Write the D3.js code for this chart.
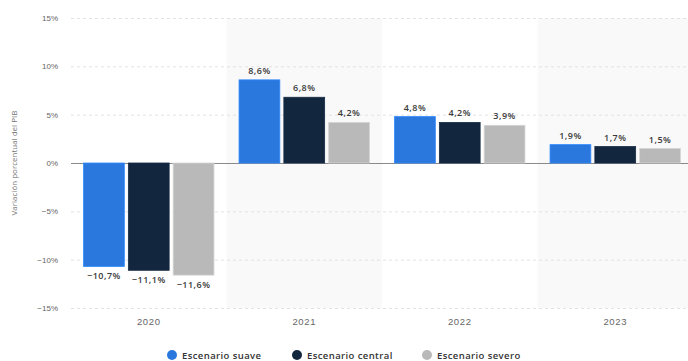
<!DOCTYPE html>
<html>
<head>
<meta charset="utf-8">
<script src="https://cdn.jsdelivr.net/npm/d3@7/dist/d3.min.js"></script>
<style>
  html, body { margin: 0; padding: 0; background: #fff; }
  svg { display: block; font-family: "Open Sans", "Noto Sans", sans-serif; }
</style>
</head>
<body>
<svg id="chart" width="688" height="361"></svg>
<script>
// Años del eje horizontal
const years = ["2020", "2021", "2022", "2023"];
// Escenarios y sus colores
const scenarios = ["Escenario suave", "Escenario central", "Escenario severo"];
const colors = ["#2a77dd", "#12263d", "#b9b9b9"];
// Variación porcentual del PIB por escenario
const suave = [-10.7, 8.6, 4.8, 1.9];
const central = [-11.1, 6.8, 4.2, 1.7];
const severo = [-11.6, 4.2, 3.9, 1.5];
// Marcas del eje vertical
const yTicks = [-15, -10, -5, 0, 5, 10, 15];

const seriesValues = [suave, central, severo];
const svg = d3.select("#chart");

const x = d3.scaleBand().domain(years).range([71, 693]).paddingInner(0).paddingOuter(0);
const xInner = d3.scaleBand().domain(scenarios)
  .range([0, x.bandwidth()]).paddingInner(0.09).paddingOuter(0.28);
const y = d3.scaleLinear().domain([-15, 15]).range([308, 18]);

const fmt = v => d3.format(".1f")(v).replace(".", ",").replace("-", "\u2212") + "%";

// Bandas sombreadas alternas
svg.append("g").selectAll("rect")
  .data(years.filter((d, i) => i % 2 === 1))
  .join("rect")
  .attr("x", d => x(d)).attr("y", y(15))
  .attr("width", x.bandwidth()).attr("height", y(-15) - y(15))
  .attr("fill", "#f9f9f9");

// Líneas de cuadrícula
const yAxis = d3.axisLeft(y).tickValues(yTicks).tickSize(0).tickPadding(13)
  .tickFormat(d => (d < 0 ? "\u2212" : "") + Math.abs(d) + "%");
const gy = svg.append("g").attr("transform", "translate(71,0)").call(yAxis);
gy.select(".domain").remove();
gy.selectAll("text").attr("fill", "#666").attr("font-size", 8);
gy.selectAll(".tick").append("line")
  .attr("x1", 0).attr("x2", 693 - 71)
  .attr("stroke", d => d === 0 ? "#8a8a8a" : "#dcdcdc")
  .attr("stroke-width", d => d === 0 ? 1.2 : 0.8)
  .attr("stroke-dasharray", d => d === 0 ? null : "3,3");

// Eje horizontal
const xAxis = d3.axisBottom(x).tickSize(0).tickPadding(6);
const gx = svg.append("g").attr("transform", "translate(0,312)").call(xAxis);
gx.select(".domain").remove();
gx.selectAll("text").attr("fill", "#666").attr("font-size", 9.5).attr("letter-spacing", 0.6);

// Título del eje vertical
svg.append("text")
  .attr("transform", `translate(17,${y(0)}) rotate(-90)`)
  .attr("text-anchor", "middle")
  .attr("font-size", 8).attr("fill", "#777")
  .text("Variación porcentual del PIB");

// Barras
const groups = svg.append("g").selectAll("g")
  .data(years)
  .join("g")
  .attr("transform", d => `translate(${x(d)},0)`);

groups.selectAll("rect")
  .data((d, i) => scenarios.map((s, j) => ({ s, j, v: seriesValues[j][i] })))
  .join("rect")
  .attr("x", d => xInner(d.s))
  .attr("width", xInner.bandwidth())
  .attr("y", d => y(Math.max(0, d.v)))
  .attr("height", d => Math.abs(y(d.v) - y(0)))
  .attr("fill", d => colors[d.j])
  .attr("stroke", d => d3.color(colors[d.j]).brighter(0.4))
  .attr("stroke-width", 0.8);

// Etiquetas de valor
groups.selectAll("text.val")
  .data((d, i) => scenarios.map((s, j) => ({ s, j, v: seriesValues[j][i] })))
  .join("text")
  .attr("class", "val")
  .attr("x", d => xInner(d.s) + xInner.bandwidth() / 2)
  .attr("y", d => d.v >= 0 ? y(d.v) - 6 : y(d.v) + 13)
  .attr("text-anchor", "middle")
  .attr("font-size", 9).attr("font-weight", 600)
  .attr("letter-spacing", 0.5)
  .attr("fill", "#3a3a3a")
  .text(d => fmt(d.v));

// Leyenda
const legendX = [172, 297, 427];
const lg = svg.append("g").selectAll("g")
  .data(scenarios)
  .join("g")
  .attr("transform", (d, i) => `translate(${legendX[i]},355)`);
lg.append("circle").attr("r", 5).attr("fill", (d, i) => colors[i]);
lg.append("text").attr("x", 10).attr("y", 3.5)
  .attr("font-size", 9.5).attr("font-weight", 600).attr("fill", "#333")
  .attr("letter-spacing", 0.4)
  .text(d => d);
</script>
</body>
</html>
